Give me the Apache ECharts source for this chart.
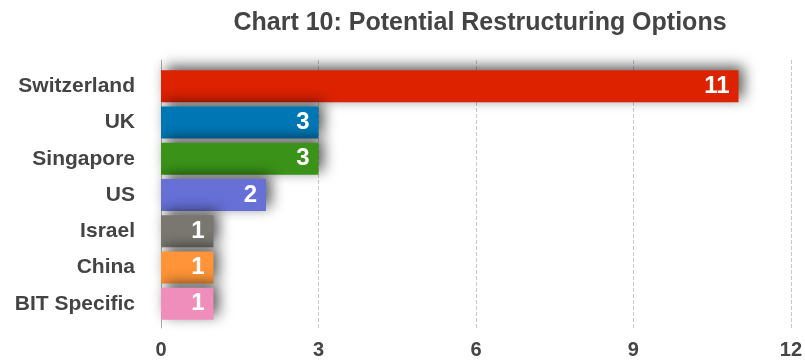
<!DOCTYPE html>
<html>
<head>
<meta charset="utf-8">
<script src="https://cdn.jsdelivr.net/npm/echarts@6/dist/echarts.min.js"></script>
<style>
  html, body { margin: 0; padding: 0; background: #fff; }
  #chart { width: 805px; height: 363px; }
</style>
</head>
<body>
<div id="chart"></div>
<script>
// categories top to bottom
const categories = ['Switzerland', 'UK', 'Singapore', 'US', 'Israel', 'China', 'BIT Specific']
const values = [11, 3, 3, 2, 1, 1, 1]
const barColors = ['#dd2200', '#0077b5', '#3a9218', '#6670d6', '#7a7770', '#ff9438', '#ef8ebb']
const xTicks = [0, 3, 6, 9, 12]

const chart = echarts.init(document.getElementById('chart'))

const font = 'Helvetica, "Liberation Sans", Arial, sans-serif'
const xMin = xTicks[0]
const xMax = xTicks[xTicks.length - 1]

chart.setOption({
  animation: false,
  title: {
    text: 'Chart 10: Potential Restructuring Options',
    left: 475,
    top: 6,
    textAlign: 'center',
    textStyle: { fontFamily: font, fontSize: 25, fontWeight: 'bold', color: '#444' }
  },
  // grid 0: frame with grid lines (a bit taller than the bars area)
  // grid 1: the bars
  grid: [
    { left: 161, right: 14, top: 60, bottom: 35 },
    { left: 161, right: 14, top: 68, bottom: 41 }
  ],
  xAxis: [
    {
      gridIndex: 0,
      type: 'value',
      min: xMin,
      max: xMax,
      interval: 3,
      axisLine: { show: false },
      axisTick: { show: false },
      axisLabel: { margin: 12, fontFamily: font, fontSize: 20, fontWeight: 'bold', color: '#444' },
      splitLine: { lineStyle: { type: 'dashed', color: '#c8c8c8' } }
    },
    {
      gridIndex: 1,
      type: 'value',
      min: xMin,
      max: xMax,
      show: false
    }
  ],
  yAxis: [
    {
      gridIndex: 0,
      type: 'value',
      axisLine: { show: true, lineStyle: { color: '#aaa' } },
      axisTick: { show: false },
      axisLabel: { show: false },
      splitLine: { show: false }
    },
    {
      gridIndex: 1,
      type: 'category',
      inverse: true,
      data: categories,
      axisLine: { show: false },
      axisTick: { show: false },
      axisLabel: { margin: 26, fontFamily: font, fontSize: 21, fontWeight: 'bold', color: '#444' }
    }
  ],
  series: [{
    type: 'bar',
    xAxisIndex: 1,
    yAxisIndex: 1,
    barWidth: 32,
    data: values.map((v, i) => ({ value: v, itemStyle: { color: barColors[i] } })),
    itemStyle: {
      shadowColor: 'rgba(0,0,0,0.65)',
      shadowBlur: 14,
      shadowOffsetX: 5,
      shadowOffsetY: -4
    },
    label: {
      show: true,
      position: 'insideRight',
      distance: 9,
      fontFamily: font,
      fontSize: 24,
      fontWeight: 'bold',
      color: '#fff'
    }
  }]
})
</script>
</body>
</html>
